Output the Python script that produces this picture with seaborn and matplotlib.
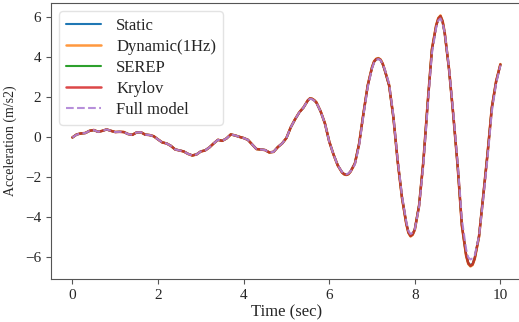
import numpy as np
import pandas as pd
import matplotlib
matplotlib.use("Agg")
import matplotlib.pyplot as plt
import seaborn as sns

time = [0.0, 0.1, 0.2, 0.3, 0.4, 0.5, 0.6, 0.7, 0.8, 0.9,
        1.0, 1.1, 1.2, 1.3, 1.4, 1.5, 1.6, 1.7, 1.8, 1.9,
        2.0, 2.1, 2.2, 2.3, 2.4, 2.5, 2.6, 2.7, 2.8, 2.9,
        3.0, 3.1, 3.2, 3.3, 3.4, 3.5, 3.6, 3.7, 3.8, 3.9,
        4.0, 4.1, 4.2, 4.3, 4.4, 4.5, 4.6, 4.7, 4.8, 4.9,
        5.0, 5.1, 5.2, 5.3, 5.4, 5.5, 5.55, 5.6, 5.65, 5.7, 5.8, 5.9,
        6.0, 6.1, 6.2, 6.3, 6.35, 6.4, 6.45, 6.5, 6.6, 6.7, 6.8, 6.9,
        7.0, 7.05, 7.1, 7.15, 7.2, 7.25, 7.3, 7.4, 7.5, 7.6, 7.7, 7.8, 7.85, 7.9, 7.95,
        8.0, 8.1, 8.2, 8.3, 8.4, 8.5, 8.55, 8.6, 8.65, 8.7, 8.8, 8.9,
        9.0, 9.1, 9.2, 9.25, 9.3, 9.35, 9.4, 9.5, 9.6, 9.7, 9.8, 9.9, 10.0]

krylov = [0.0, 0.15, 0.2, 0.22, 0.33, 0.37, 0.28, 0.33, 0.4, 0.33,
          0.27, 0.28, 0.27, 0.17, 0.13, 0.25, 0.26, 0.14, 0.12, 0.06,
          -0.1, -0.25, -0.3, -0.42, -0.6, -0.65, -0.7, -0.82, -0.9, -0.85,
          -0.7, -0.65, -0.5, -0.3, -0.12, -0.17, -0.05, 0.15, 0.1, 0.03,
          -0.03, -0.12, -0.35, -0.58, -0.6, -0.63, -0.75, -0.72, -0.48, -0.3,
          -0.03, 0.5, 0.9, 1.25, 1.5, 1.85, 1.95, 1.93, 1.86, 1.75, 1.3, 0.7,
          -0.2, -0.85, -1.4, -1.75, -1.84, -1.87, -1.83, -1.7, -1.3, -0.3, 1.2, 2.6,
          3.5, 3.8, 3.92, 3.95, 3.88, 3.68, 3.35, 2.6, 1.0, -1.2, -3.0, -4.3, -4.75, -4.93, -4.85,
          -4.6, -3.4, -1.2, 1.7, 4.4, 5.6, 5.95, 6.07, 5.8, 5.2, 3.4, 1.1,
          -1.4, -4.4, -5.9, -6.3, -6.42, -6.35, -6.05, -4.95, -2.9, -0.8, 1.5, 2.8, 3.65]

static = [v * 0.995 for v in krylov]
dynamic = [v * 1.005 for v in krylov]
serep = list(krylov)

full_model = [0.0, 0.14, 0.2, 0.22, 0.33, 0.37, 0.28, 0.33, 0.4, 0.33,
              0.27, 0.28, 0.27, 0.17, 0.13, 0.25, 0.26, 0.14, 0.12, 0.06,
              -0.1, -0.25, -0.3, -0.42, -0.6, -0.65, -0.7, -0.82, -0.9, -0.85,
              -0.7, -0.65, -0.5, -0.3, -0.12, -0.17, -0.05, 0.15, 0.1, 0.03,
              -0.03, -0.12, -0.35, -0.58, -0.6, -0.63, -0.75, -0.72, -0.48, -0.3,
              -0.03, 0.5, 0.9, 1.25, 1.5, 1.85, 1.93, 1.91, 1.84, 1.75, 1.3, 0.7,
              -0.2, -0.85, -1.4, -1.73, -1.8, -1.84, -1.8, -1.7, -1.35, -0.4, 1.1, 2.5,
              3.45, 3.75, 3.88, 3.92, 3.86, 3.66, 3.4, 2.7, 1.1, -1.1, -2.9, -4.2, -4.67, -4.83, -4.76,
              -4.6, -3.5, -1.4, 1.5, 4.2, 5.5, 5.85, 5.95, 5.7, 5.25, 3.5, 1.25,
              -1.2, -4.1, -5.6, -6.0, -6.1, -6.05, -5.9, -4.95, -3.1, -1.0, 1.3, 2.7, 3.6]

labels = ["Static", "Dynamic(1Hz)", "SEREP", "Krylov", "Full model"]

sns.set_style("ticks")
plt.rcParams["font.family"] = ["Liberation Serif", "DejaVu Serif"]

fig = plt.figure(figsize=(5.19, 3.22), dpi=100)
ax = fig.add_axes([0.0983, 0.1335, 0.9071, 0.857])

series = [static, dynamic, serep, krylov, full_model]
colors = ["#1f77b4", "#ff7f0e", "#2ca02c", "#d62728", "#b083d6"]
styles = ["-", "-", "-", "-", "--"]
widths = [1.5, 1.8, 1.5, 1.8, 1.5]
alphas = [1.0, 0.8, 1.0, 0.85, 0.9]

for lab, vals, c, ls, lw, a in zip(labels, series, colors, styles, widths, alphas):
    df = pd.DataFrame({"t": time, "a": vals})
    sns.lineplot(data=df, x="t", y="a", ax=ax, color=c, linestyle=ls,
                 linewidth=lw, alpha=a, label=lab)

ax.set_xlim(-0.5, 10.5)
ax.set_ylim(-7.08, 6.72)
ax.set_xticks([0, 2, 4, 6, 8, 10])
ax.set_yticks([-6, -4, -2, 0, 2, 4, 6])
ax.tick_params(labelsize=11, length=3.5, color="#555555")
ax.set_xlabel("Time (sec)", fontsize=12, labelpad=2)
ax.set_ylabel("Acceleration (m/s2)", fontsize=10)
ax.yaxis.set_label_coords(-0.072, 0.5)
for s in ["left", "bottom", "top"]:
    ax.spines[s].set_color("#555555")
ax.spines["right"].set_visible(False)

leg = ax.legend(loc="upper left", fontsize=12, frameon=True, handlelength=2.1,
                handletextpad=0.9, borderaxespad=0.5, labelspacing=0.3)
leg.get_frame().set_edgecolor("#dddddd")

fig.savefig("out.png", dpi=100)
